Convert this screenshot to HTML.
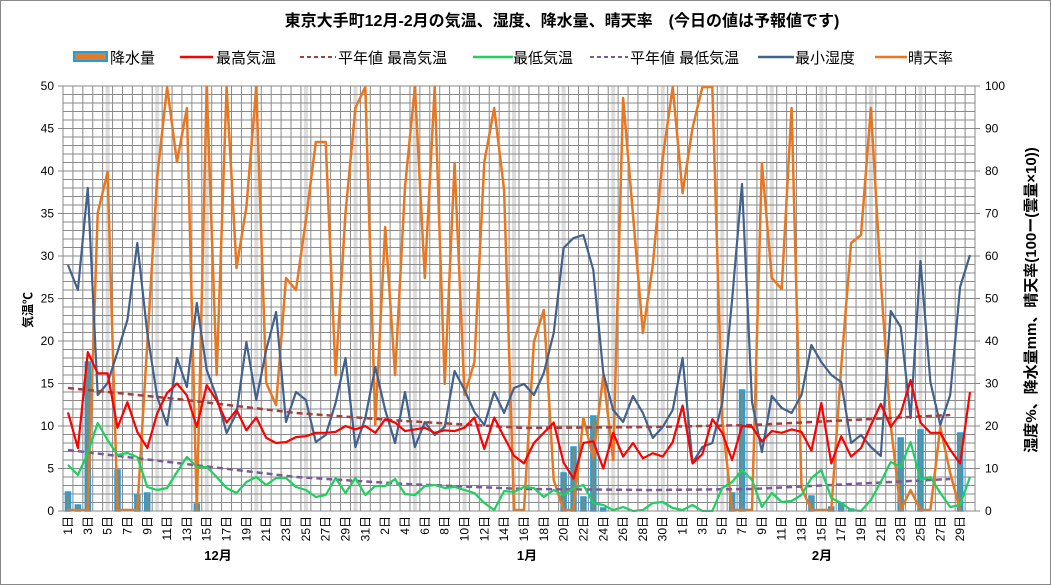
<!DOCTYPE html>
<html><head><meta charset="utf-8">
<style>
html,body{margin:0;padding:0;background:#fff;}
#wrap{position:relative;width:1051px;height:585px;overflow:hidden;}
svg text{font-family:"Liberation Sans","Noto Sans CJK JP",sans-serif;}
</style></head>
<body><div id="wrap">
<svg id="s" width="1051" height="585" xmlns="http://www.w3.org/2000/svg">
<rect x="0.5" y="0.5" width="1050" height="584" fill="#fff" stroke="#888" stroke-width="1"/>
<text x="562" y="26" font-size="16" font-weight="bold" text-anchor="middle" fill="#000">東京大手町12月-2月の気温、湿度、降水量、晴天率　(今日の値は予報値です)</text>
<g font-size="15" fill="#000">
<rect x="74" y="52" width="33" height="9" fill="#e07b30" stroke="#1ba1e2" stroke-width="2"/>
<text x="110" y="63">降水量</text>
<line x1="180" y1="57" x2="213" y2="57" stroke="#ff0000" stroke-width="2.5"/>
<text x="216" y="63">最高気温</text>
<line x1="300" y1="57" x2="336" y2="57" stroke="#a0403f" stroke-width="2" stroke-dasharray="4,3"/>
<text x="338" y="63">平年値 最高気温</text>
<line x1="473" y1="57" x2="513" y2="57" stroke="#1fcf5f" stroke-width="2.5"/>
<text x="513" y="63">最低気温</text>
<line x1="590" y1="57" x2="628" y2="57" stroke="#7b5a9a" stroke-width="2" stroke-dasharray="4,3"/>
<text x="630" y="63">平年値 最低気温</text>
<line x1="758" y1="57" x2="794" y2="57" stroke="#41628f" stroke-width="2.5"/>
<text x="795" y="63">最小湿度</text>
<line x1="875" y1="57" x2="907" y2="57" stroke="#e87722" stroke-width="2.5"/>
<text x="908" y="63">晴天率</text>
</g>
<g id="grid"></g>
<g id="series"></g>
<g id="axes" font-size="12" fill="#000"></g>
<text transform="translate(32,310) rotate(-90)" font-size="12" font-weight="bold" text-anchor="middle">気温℃</text>
<text transform="translate(1036,300) rotate(-90)" font-size="15" font-weight="bold" text-anchor="middle">湿度%、降水量mm、晴天率(100ー(雲量×10))</text>
<text x="218" y="560" font-size="13" font-weight="bold" text-anchor="middle">12月</text>
<text x="527" y="560" font-size="13" font-weight="bold" text-anchor="middle">1月</text>
<text x="822" y="560" font-size="13" font-weight="bold" text-anchor="middle">2月</text>
</svg>
</div>
<script>
var NS="http://www.w3.org/2000/svg";
var L=63,R=975,T=86,B=511,N=92,W=(R-L)/N;
function X(d){return L+(d-0.5)*W;}
function el(p,tag,a,txt){var e=document.createElementNS(NS,tag);for(var k in a)e.setAttribute(k,a[k]);if(txt!==undefined)e.textContent=txt;p.appendChild(e);return e;}
var g=document.getElementById('grid'),s=document.getElementById('series'),ax=document.getElementById('axes');
// bands at 5,10,...,30 of each month
var starts=[0,31,62];
starts.forEach(function(o,mi){for(var k=5;k<=30;k+=5){var d=o+k;if(mi==2&&k>29)continue;el(g,'rect',{x:X(d)-2,y:T,width:4,height:B-T,fill:'#dcdcdc'});}});
for(var i=0;i<=50;i++){var y=B-i*8.5;el(g,'line',{x1:L,y1:y,x2:R,y2:y,stroke:'#8a8a8a','stroke-width':1});}
for(var k=0;k<=N;k++){var x=L+k*W;el(g,'line',{x1:x,y1:T,x2:x,y2:B,stroke:'#8a8a8a','stroke-width':1});}
// axes ticks/labels
for(var v=0;v<=50;v+=5){var y=B-v*8.5;el(ax,'line',{x1:L-5,y1:y,x2:L,y2:y,stroke:'#888'});el(ax,'text',{x:L-9,y:y+4,'text-anchor':'end'},v);}
for(var p=0;p<=100;p+=10){var y=B-p*4.25;el(ax,'line',{x1:R,y1:y,x2:R+5,y2:y,stroke:'#888'});el(ax,'text',{x:R+10,y:y+4},p);}
el(ax,'line',{x1:L,y1:B,x2:R,y2:B,stroke:'#888'});
// day labels
for(var d=1;d<=91;d+=2){var day=d<=31?d:(d<=62?d-31:d-62);var x=X(d);
el(ax,'text',{transform:'translate('+(x+4)+',516) rotate(-90)','text-anchor':'end','font-size':'12'},day+'日');}
// bars
var bars={1:492,2:505,3:362,6:470,8:495,9:493,14:504,51:473,52:447,53:497,54:416,55:508,68:493,69:390,76:496,78:507,79:503,80:509,85:438,87:430,91:433};
for(var d in bars){el(s,'rect',{x:X(+d)-2.5,y:bars[d],width:5,height:B-bars[d],fill:'#6b8e8e',stroke:'#1ba1e2','stroke-width':1.5});}
var clip=el(s,'clipPath',{id:'c'});el(clip,'rect',{x:L,y:T,width:R-L,height:B-T+1});
function line(ys,col,w,dash){var pts=ys.map(function(y,i){return X(i+1).toFixed(1)+','+y;}).join(' ');
var a={points:pts,fill:'none',stroke:col,'stroke-width':w,'stroke-linejoin':'round','clip-path':'url(#c)'};if(dash)a['stroke-dasharray']=dash;el(s,'polyline',a);}
function pl(pts,col,dash){el(s,'polyline',{points:pts.map(function(p){return X(p[0]).toFixed(1)+','+p[1];}).join(' '),fill:'none',stroke:col,'stroke-width':2.5,'stroke-dasharray':dash});}
var red=[11.6,7.4,18.7,16.2,16.2,9.8,12.8,9.3,7.4,11.5,13.9,15,13.6,9.9,14.8,13,10.4,11.9,9.5,11,8.6,8,8.1,8.7,8.8,9.2,9.2,9.3,10,9.6,10,9.2,10.8,10.4,9.4,9.6,9.8,9.2,9.5,9.4,9.8,11,7.3,11,8.7,6.5,5.6,8,9.2,10.4,5.7,3.8,8,8.2,5,9.2,6.4,8,6.2,6.8,6.4,8.1,12.4,5.6,6.7,10.8,9.2,6,10,9.9,8.2,9.4,9.2,9.6,9.3,7.1,12.7,5.6,8.8,6.4,7.4,10.1,12.6,9.9,11.5,15.4,10.4,9.2,9.2,7.2,5.6,14].map(function(v){return (B-v*8.5).toFixed(1);});
var green=[465,475,453,423,440,455,453,457,487,490,488,472,457,467,467,477,488,493,482,477,485,478,478,487,490,497,495,478,493,478,495,486,486,479,494,495,486,485,488,487,490,493,503,510,491,492,487,488,497,490,495,488,485,503,505,510,507,511,510,503,502,508,510,505,511,511,488,482,470,480,507,493,502,501,495,478,470,498,503,510,511,500,482,462,467,442,480,477,493,507,505,477];
var blue=[265,290,188,395,383,352,320,243,333,397,425,358,387,303,370,397,433,413,342,400,350,312,422,392,400,442,435,403,358,447,418,367,410,443,392,447,422,435,427,371,390,412,425,392,413,388,384,395,373,333,248,238,235,270,373,410,422,396,413,438,427,410,358,463,447,443,403,300,184,402,452,396,408,413,395,345,362,375,382,443,435,447,456,311,327,418,261,382,425,395,287,255];
var orange=[510,510,510,213,172,510,510,510,343,177,87,162,108,510,87,375,87,268,207,87,383,405,278,290,220,142,142,375,213,108,87,425,227,375,187,87,278,87,384,163,395,362,162,108,190,510,510,342,310,480,510,510,418,458,375,460,98,215,333,265,158,87,193,128,87,87,420,510,510,510,163,278,289,108,488,510,510,510,367,243,235,108,280,425,510,490,510,510,427,473,510];
line(orange,'#e87722',2.5);
line(blue,'#41628f',2.2);
pl([[1,388],[12,399],[24,413],[35,421],[47,428],[60,427],[70,425],[80,420],[90,415]],'#a0403f','6,4');
pl([[1,450],[12,463],[24,477],[35,484],[47,489],[60,490],[70,489],[80,484],[90,479]],'#7b5a9a','6,4');
line(red,'#ff0000',2.2);
line(green,'#1fcf5f',2.2);
</script>
</body></html>
